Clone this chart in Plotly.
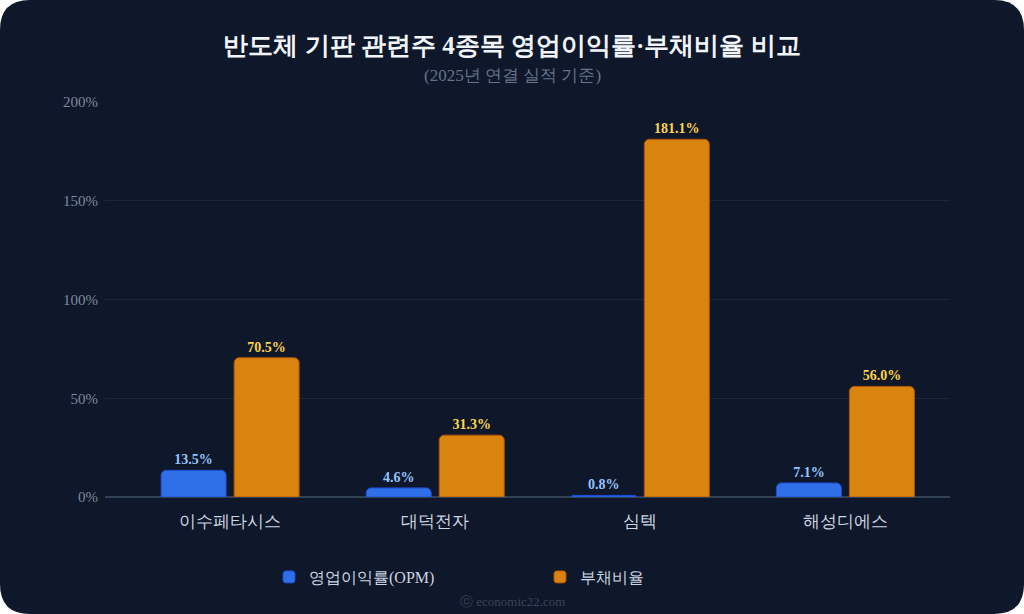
import plotly.graph_objects as go

# data
companies = ["이수페타시스", "대덕전자", "심텍", "해성디에스"]
opm = [13.5, 4.6, 0.8, 7.1]          # 영업이익률(OPM), %
debt_ratio = [70.5, 31.3, 181.1, 56.0]  # 부채비율, %
y_ticks = [0, 50, 100, 150, 200]
y_tick_labels = ["0%", "50%", "100%", "150%", "200%"]

W, H = 1024, 614
ML, MR, MT, MB = 105, 74, 102, 117
PW, PH = W - ML - MR, H - MT - MB

BG = "#0f172a"
SERIF = "Liberation Serif, Noto Serif, serif"


def px_x(x):
    return (x - ML) / PW


def px_y(y):
    return (H - MB - y) / PH


def card_path(r=30):
    # rounded rectangle covering the whole figure, in paper units
    pts = [
        ("M", [(r, 0)]),
        ("L", [(W - r, 0)]),
        ("Q", [(W, 0), (W, r)]),
        ("L", [(W, H - r)]),
        ("Q", [(W, H), (W - r, H)]),
        ("L", [(r, H)]),
        ("Q", [(0, H), (0, H - r)]),
        ("L", [(0, r)]),
        ("Q", [(0, 0), (r, 0)]),
    ]
    out = ""
    for cmd, coords in pts:
        out += cmd + " " + " ".join(f"{px_x(a):.5f},{px_y(b):.5f}" for a, b in coords) + " "
    return out + "Z"


fig = go.Figure()

fig.add_trace(go.Bar(
    name="영업이익률(OPM)",
    x=companies,
    y=opm,
    marker=dict(color="#2f6fe8", line=dict(color="#1d4ed8", width=1), cornerradius=5),
    texttemplate="%{y:.1f}%",
    textposition="outside",
    cliponaxis=False,
    textfont=dict(family=SERIF, size=14, color="#93c5fd", weight="bold"),
))

fig.add_trace(go.Bar(
    name="부채비율",
    x=companies,
    y=debt_ratio,
    marker=dict(color="#d8840e", line=dict(color="#b45309", width=1), cornerradius=5),
    texttemplate="%{y:.1f}%",
    textposition="outside",
    cliponaxis=False,
    textfont=dict(family=SERIF, size=14, color="#fcd34d", weight="bold"),
))

fig.update_layout(
    width=W,
    height=H,
    margin=dict(l=ML, r=MR, t=MT, b=MB),
    paper_bgcolor="#ffffff",
    plot_bgcolor="rgba(0,0,0,0)",
    barmode="group",
    bargap=0.288,
    bargroupgap=0.11,
    font=dict(family=SERIF, color="#94a3b8"),
    title=dict(
        text="<b>반도체 기판 관련주 4종목 영업이익률·부채비율 비교</b>",
        x=0.5, xref="container", xanchor="center",
        y=1 - 45 / H, yref="container", yanchor="middle",
        font=dict(family=SERIF, size=25, color="#f1f5f9"),
    ),
    showlegend=True,
    legend=dict(
        orientation="h",
        x=px_x(540), xanchor="center",
        y=px_y(577), yanchor="middle",
        font=dict(family=SERIF, size=16, color="#cbd5e1"),
        bgcolor="rgba(0,0,0,0)",
        entrywidth=226,
    ),
    xaxis=dict(
        range=[-0.61, 3.51],
        showgrid=False,
        showline=False,
        zeroline=False,
        tickfont=dict(family=SERIF, size=17, color="#cbd5e1"),
        ticklabelstandoff=12,
    ),
    yaxis=dict(
        range=[0, 200],
        tickvals=y_ticks,
        ticktext=y_tick_labels,
        tickfont=dict(family=SERIF, size=15, color="#7f8a9c"),
        gridcolor="#1c2638",
        gridwidth=1,
        zeroline=True,
        zerolinecolor="#334155",
        zerolinewidth=1.5,
        showline=False,
        ticklabelstandoff=6,
    ),
    shapes=[dict(
        type="path",
        xref="paper", yref="paper",
        path=card_path(),
        fillcolor=BG,
        line=dict(width=0),
        layer="below",
    )],
    annotations=[
        dict(
            text="(2025년 연결 실적 기준)",
            x=px_x(512), y=px_y(75), xref="paper", yref="paper",
            xanchor="center", yanchor="middle", showarrow=False,
            font=dict(family=SERIF, size=17, color="#64748b"),
        ),
        dict(
            text="ⓒ economic22.com",
            x=px_x(512), y=px_y(601), xref="paper", yref="paper",
            xanchor="center", yanchor="middle", showarrow=False,
            font=dict(family=SERIF, size=13, color="#3a4558"),
        ),
    ],
)

# drop the default page margin so the card fills the window, hide the modebar
fig.write_html(
    "out.html",
    config={"displayModeBar": False},
    post_script="document.body.style.margin='0';",
)
